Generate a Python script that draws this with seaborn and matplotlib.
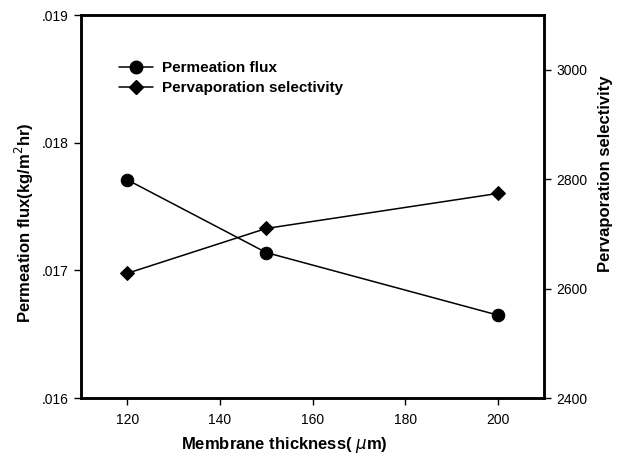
import matplotlib
matplotlib.use("Agg")
import matplotlib.pyplot as plt
import matplotlib.ticker as mticker
from matplotlib.lines import Line2D
import seaborn as sns
import pandas as pd

# Membrane thickness (um) vs. flux and selectivity
thickness = [120, 150, 200]
permeation_flux = [0.01771, 0.01714, 0.01665]
selectivity = [2628, 2710, 2774]

x_ticks = [120, 140, 160, 180, 200]
flux_ticks = [0.016, 0.017, 0.018, 0.019]
sel_ticks = [2400, 2600, 2800, 3000]

df = pd.DataFrame({"thickness": thickness, "flux": permeation_flux, "sel": selectivity})

sns.set_theme(style="white")
plt.rcParams["font.family"] = ["Liberation Sans", "DejaVu Sans"]
plt.rcParams["text.color"] = "black"
plt.rcParams["axes.labelcolor"] = "black"

fig = plt.figure(figsize=(6.17, 4.55), dpi=100)
ax = fig.add_axes([0.131, 0.125, 0.751, 0.842])
ax2 = ax.twinx()

sns.lineplot(data=df, x="thickness", y="flux", ax=ax, color="black", lw=1.1,
             marker="o", markersize=9, markeredgecolor="black", legend=False)
sns.lineplot(data=df, x="thickness", y="sel", ax=ax2, color="black", lw=1.1,
             marker="D", markersize=7.5, markeredgecolor="black", legend=False)

ax.set_xlim(110, 210)
ax.set_ylim(0.016, 0.019)
ax2.set_ylim(2400, 3100)
ax.set_xticks(x_ticks)
ax.set_yticks(flux_ticks)
ax2.set_yticks(sel_ticks)
ax.yaxis.set_major_formatter(mticker.FuncFormatter(lambda v, p: f"{v:.3f}".lstrip("0")))

for a in (ax, ax2):
    for s in a.spines.values():
        s.set_linewidth(1.8)
        s.set_color("black")
    a.tick_params(direction="out", length=5, width=1.0, colors="black",
                  labelsize=10, pad=4)

ax.tick_params(axis="x", bottom=True, pad=6)
ax.tick_params(axis="y", left=True)
ax2.tick_params(axis="y", right=True)

ax.set_xlabel("Membrane thickness( $\\mu$m)", fontsize=12, fontweight="bold")
ax.set_ylabel("Permeation flux(kg/m$^2$hr)", fontsize=12, fontweight="bold")
ax2.set_ylabel("Pervaporation selectivity", fontsize=12, fontweight="bold")
ax.xaxis.set_label_coords(0.44, -0.097)
ax.yaxis.set_label_coords(-0.097, 0.457)
ax2.yaxis.set_label_coords(1.117, 0.585)

handles = [
    Line2D([], [], color="black", lw=1.1, marker="o", markersize=9),
    Line2D([], [], color="black", lw=1.1, marker="D", markersize=7.5),
]
ax.legend(handles, ["Permeation flux", "Pervaporation selectivity"],
          loc="upper left", bbox_to_anchor=(0.07, 0.895), frameon=False,
          prop={"size": 11, "weight": "bold"}, handlelength=2.2,
          handletextpad=0.6, labelspacing=0.4, borderaxespad=0)

fig.savefig("out.png", dpi=100)
